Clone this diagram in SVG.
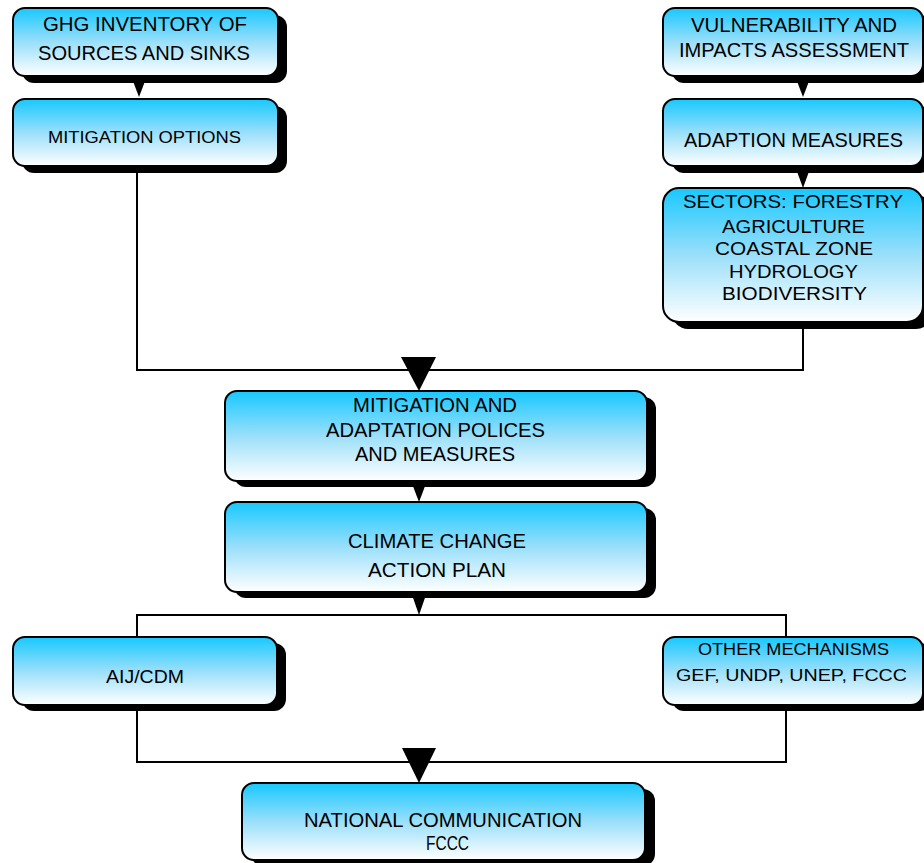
<svg xmlns="http://www.w3.org/2000/svg" width="924" height="863" viewBox="0 0 924 863">
<defs>
<linearGradient id="g" x1="0" y1="0" x2="0" y2="1">
<stop offset="0" stop-color="#18C8FF"/>
<stop offset="0.5" stop-color="#9ADFFA"/>
<stop offset="1" stop-color="#FFFFFF"/>
</linearGradient>
</defs>
<style>
.sh{fill:#000}
.bx{fill:url(#g);stroke:#000;stroke-width:2}
text{font-family:"Liberation Sans",Arial,sans-serif;fill:#000;text-anchor:middle}
.ln{fill:none;stroke:#000;stroke-width:2}
.ar{fill:#000}
</style>
<rect width="924" height="863" fill="#fff"/>
<g id="connectors">
<polyline class="ln" points="137,166 137,370 803,370 803,322"/>
<polyline class="ln" points="137,637 137,615 786,615 786,637"/>
<polyline class="ln" points="137,705 137,762 786,762 786,705"/>
<polygon class="ar" points="131,76 147,76 139,97"/>
<polygon class="ar" points="795,76 811,76 803,97"/>
<polygon class="ar" points="795,166 811,166 803,188"/>
<polygon class="ar" points="401,357 436,357 419,391"/>
<polygon class="ar" points="411,481 427,481 419,502"/>
<polygon class="ar" points="411,592 427,592 419,615"/>
<polygon class="ar" points="402,748 436,748 419,783"/>
</g>
<g id="ghg">
<rect class="sh" x="22" y="15" width="265" height="68" rx="12"/>
<rect class="bx" x="13" y="8" width="265" height="68" rx="12"/>
<text x="145" y="31" font-size="21" textLength="204" lengthAdjust="spacingAndGlyphs">GHG INVENTORY OF</text>
<text x="144" y="60" font-size="21" textLength="212" lengthAdjust="spacingAndGlyphs">SOURCES AND SINKS</text>
</g>
<g id="mitigation-options">
<rect class="sh" x="22" y="106" width="265" height="67" rx="12"/>
<rect class="bx" x="13" y="99" width="265" height="67" rx="12"/>
<text x="144.5" y="143" font-size="16.5" textLength="193" lengthAdjust="spacingAndGlyphs">MITIGATION OPTIONS</text>
</g>
<g id="vulnerability">
<rect class="sh" x="672" y="15" width="260" height="68" rx="12"/>
<rect class="bx" x="663" y="8" width="260" height="68" rx="12"/>
<text x="794" y="32" font-size="21" textLength="206" lengthAdjust="spacingAndGlyphs">VULNERABILITY AND</text>
<text x="794" y="57" font-size="21" textLength="230" lengthAdjust="spacingAndGlyphs">IMPACTS ASSESSMENT</text>
</g>
<g id="adaption">
<rect class="sh" x="672" y="106" width="260" height="67" rx="12"/>
<rect class="bx" x="663" y="99" width="260" height="67" rx="12"/>
<text x="793.5" y="147" font-size="21" textLength="219" lengthAdjust="spacingAndGlyphs">ADAPTION MEASURES</text>
</g>
<g id="sectors">
<rect class="sh" x="672" y="195" width="260" height="134" rx="16"/>
<rect class="bx" x="663" y="188" width="260" height="134" rx="16"/>
<text x="793" y="208" font-size="18.5" textLength="220" lengthAdjust="spacingAndGlyphs">SECTORS: FORESTRY</text>
<text x="793.5" y="233" font-size="18.5" textLength="143" lengthAdjust="spacingAndGlyphs">AGRICULTURE</text>
<text x="794" y="255" font-size="18.5" textLength="158" lengthAdjust="spacingAndGlyphs">COASTAL ZONE</text>
<text x="793.5" y="278" font-size="18.5" textLength="129" lengthAdjust="spacingAndGlyphs">HYDROLOGY</text>
<text x="794.5" y="300" font-size="18.5" textLength="145" lengthAdjust="spacingAndGlyphs">BIODIVERSITY</text>
</g>
<g id="policies">
<rect class="sh" x="234" y="397" width="422" height="90" rx="12"/>
<rect class="bx" x="225" y="391" width="422" height="90" rx="12"/>
<text x="435" y="412" font-size="19.5" textLength="164" lengthAdjust="spacingAndGlyphs">MITIGATION AND</text>
<text x="435.5" y="437" font-size="19.5" textLength="219" lengthAdjust="spacingAndGlyphs">ADAPTATION POLICES</text>
<text x="435" y="461" font-size="19.5" textLength="160" lengthAdjust="spacingAndGlyphs">AND MEASURES</text>
</g>
<g id="action-plan">
<rect class="sh" x="234" y="508" width="422" height="90" rx="12"/>
<rect class="bx" x="225" y="502" width="422" height="90" rx="12"/>
<text x="437" y="548" font-size="20" textLength="178" lengthAdjust="spacingAndGlyphs">CLIMATE CHANGE</text>
<text x="437" y="577" font-size="20" textLength="138" lengthAdjust="spacingAndGlyphs">ACTION PLAN</text>
</g>
<g id="aij">
<rect class="sh" x="22" y="643" width="264" height="68" rx="12"/>
<rect class="bx" x="13" y="637" width="264" height="68" rx="12"/>
<text x="145" y="683" font-size="19" textLength="78" lengthAdjust="spacingAndGlyphs">AIJ/CDM</text>
</g>
<g id="other">
<rect class="sh" x="672" y="643" width="260" height="68" rx="12"/>
<rect class="bx" x="663" y="637" width="260" height="68" rx="12"/>
<text x="793.5" y="655" font-size="17" textLength="191" lengthAdjust="spacingAndGlyphs">OTHER MECHANISMS</text>
<text x="791.5" y="681" font-size="17" textLength="231" lengthAdjust="spacingAndGlyphs">GEF, UNDP, UNEP, FCCC</text>
</g>
<g id="national">
<rect class="sh" x="251" y="789" width="404" height="77" rx="12"/>
<rect class="bx" x="242" y="783" width="403" height="77" rx="12"/>
<text x="443" y="827" font-size="21" textLength="278" lengthAdjust="spacingAndGlyphs">NATIONAL COMMUNICATION</text>
<text x="447.5" y="850" font-size="20" textLength="43" lengthAdjust="spacingAndGlyphs">FCCC</text>
</g>
</svg>
